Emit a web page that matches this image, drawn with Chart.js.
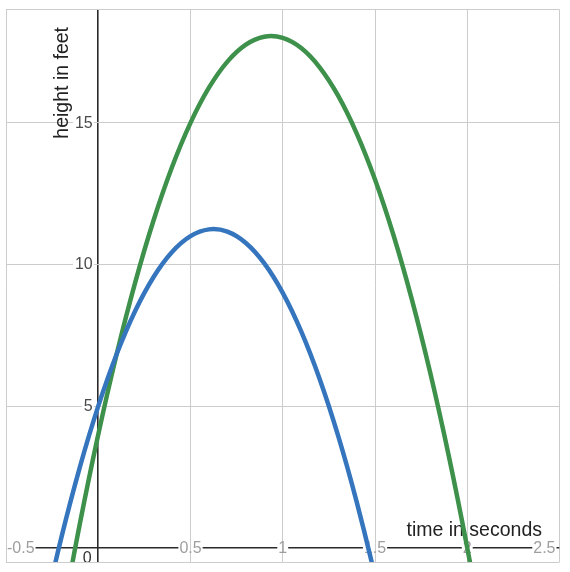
<!DOCTYPE html>
<html><head><meta charset="utf-8">
<script src="https://cdn.jsdelivr.net/npm/chart.js@4.4.1/dist/chart.umd.min.js"></script>
<style>html,body{margin:0;padding:0;background:#fff;}canvas{display:block}</style>
</head><body>
<canvas id="c" width="570" height="572"></canvas>
<script>
// time (s) and height (ft)
const blueTimes   = [-0.3,-0.2,-0.1,0,0.1,0.2,0.3,0.4,0.5,0.6,0.7,0.8,0.9,1.0,1.1,1.2,1.3,1.4,1.5,1.6];
const blueHeights = [-2.44,0.36,2.84,5,6.84,8.36,9.56,10.44,11,11.24,11.16,10.76,10.04,9,7.64,5.96,3.96,1.64,-1,-3.96];
const greenTimes   = [-0.2,-0.1,0,0.1,0.2,0.3,0.4,0.5,0.6,0.7,0.8,0.9,1.0,1.1,1.2,1.3,1.4,1.5,1.6,1.7,1.8,1.9,2.0,2.1];
const greenHeights = [-2.64,0.84,4,6.84,9.36,11.56,13.44,15,16.24,17.16,17.76,18.04,18,17.64,16.96,15.96,14.64,13,11.04,8.76,6.16,3.24,0,-3.56];

const xGridValues = [-0.5,0,0.5,1,1.5,2,2.5];
const yGridValues = [-0.5,0,5,10,15,19];
const xTickValues = [-0.5,0.5,1,1.5,2,2.5];
const xTickLabels = ['-0.5','0.5','1','1.5','2','2.5'];
const yTickValues = [5,10,15];
const yTickLabels = ['5','10','15'];
const originLabel = '0';
const xAxisTitle = 'time in seconds';
const yAxisTitle = 'height in feet';

const FONT = '"Liberation Sans", Arial, sans-serif';

function alignPx(p, w){ return Math.round(p - w/2) + w/2; }

const overlay = {
  id: 'overlay',
  beforeDatasetsDraw(chart){
    const {ctx, chartArea: a, scales: {x, y}} = chart;
    const x0 = x.getPixelForValue(0), y0 = y.getPixelForValue(0);
    ctx.save();
    ctx.beginPath(); ctx.rect(a.left, a.top, a.right - a.left, a.bottom - a.top); ctx.clip();
    ctx.font = '16px ' + FONT;
    ctx.textBaseline = 'middle';
    // x tick labels on the axis line
    xTickValues.forEach((v, i) => {
      const txt = xTickLabels[i];
      const w = ctx.measureText(txt).width;
      const cx = x.getPixelForValue(v);
      let left = cx - w/2;
      left = Math.max(a.left + 1, Math.min(a.right - 4 - w, left));
      ctx.fillStyle = '#fff';
      ctx.fillRect(left - 1, y0 - 4, w + 2, 8);
      const gx = alignPx(cx, 1);
      ctx.strokeStyle = '#cccccc'; ctx.lineWidth = 1;
      ctx.beginPath(); ctx.moveTo(gx, y0 - 4); ctx.lineTo(gx, y0 + 4); ctx.stroke();
      ctx.fillStyle = '#9e9e9e'; ctx.textAlign = 'left';
      ctx.fillText(txt, left, y0 + 0.5);
    });
    // y tick labels
    yTickValues.forEach((v, i) => {
      const txt = yTickLabels[i];
      const w = ctx.measureText(txt).width;
      const cy = y.getPixelForValue(v);
      const right = x0 - 5.5;
      ctx.fillStyle = '#fff';
      ctx.fillRect(right - w - 2, cy - 4, w + 3, 8);
      ctx.fillStyle = '#4a4a4a'; ctx.textAlign = 'right';
      ctx.fillText(txt, right, cy + 0.5);
    });
    // origin label
    ctx.textBaseline = 'top';
    ctx.textAlign = 'right';
    ctx.fillStyle = '#333';
    ctx.fillText(originLabel, x0 - 6.5, y0 + 3.2);
    // axis titles
    ctx.font = '19.5px ' + FONT;
    ctx.fillStyle = '#222';
    ctx.textBaseline = 'alphabetic';
    ctx.textAlign = 'right';
    ctx.fillText(xAxisTitle, a.right - 17.5, y0 - 12.3);
    ctx.translate(x0 - 30, a.top + 17.5);
    ctx.rotate(-Math.PI/2);
    ctx.textAlign = 'right';
    ctx.fillText(yAxisTitle, 0, 0);
    ctx.restore();
  }
};

const gridColor = c => (c.tick && c.tick.value === 0) ? '#2a2a2a' : '#cccccc';
const gridWidth = c => (c.tick && c.tick.value === 0) ? 1.6 : 1;

new Chart(document.getElementById('c'), {
  type: 'scatter',
  data: {
    datasets: [
      {
        data: blueTimes.map((t, i) => ({x: t, y: blueHeights[i]})),
        showLine: true, borderColor: '#3475be', borderWidth: 4.5,
        pointRadius: 0, tension: 0.4, fill: false, clip: 0
      },
      {
        data: greenTimes.map((t, i) => ({x: t, y: greenHeights[i]})),
        showLine: true, borderColor: '#3d914a', borderWidth: 4.5,
        pointRadius: 0, tension: 0.4, fill: false, clip: 0
      }
    ]
  },
  options: {
    responsive: false,
    devicePixelRatio: 1,
    animation: false,
    events: [],
    layout: { padding: { left: 6, top: 9.5, right: 10.5, bottom: 10 } },
    plugins: { legend: { display: false }, tooltip: { enabled: false } },
    scales: {
      x: {
        type: 'linear', min: -0.5, max: 2.5,
        afterBuildTicks: s => { s.ticks = xGridValues.map(v => ({value: v})); },
        ticks: { display: false },
        border: { display: false },
        grid: { color: gridColor, lineWidth: gridWidth, drawTicks: false }
      },
      y: {
        type: 'linear', min: -0.5, max: 19,
        afterBuildTicks: s => { s.ticks = yGridValues.map(v => ({value: v})); },
        ticks: { display: false },
        border: { display: false },
        grid: { color: gridColor, lineWidth: gridWidth, drawTicks: false }
      }
    }
  },
  plugins: [overlay]
});
</script>
</body></html>
